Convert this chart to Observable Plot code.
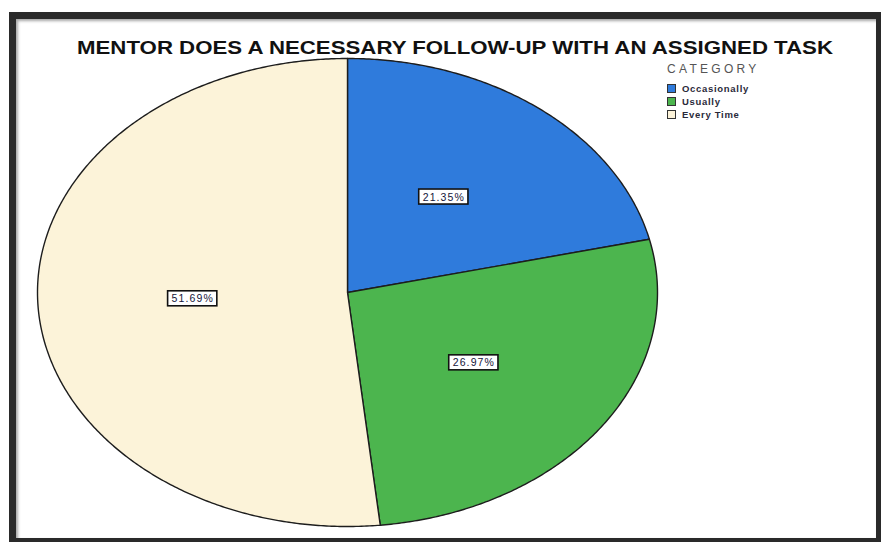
<!DOCTYPE html>
<html><head><meta charset="utf-8">
<script src="https://cdn.jsdelivr.net/npm/d3@7"></script>
<script src="https://cdn.jsdelivr.net/npm/@observablehq/plot@0.6"></script>
<style>
html,body{margin:0;padding:0;background:#fff;width:881px;height:542px;overflow:hidden;font-family:"Liberation Sans",Arial,sans-serif}
#frame{position:absolute;left:9px;top:12px;width:872px;height:530px;background:#2a2a2a;}
#inner{position:absolute;left:16px;top:19px;width:860px;height:519px;background:#fff;box-shadow:inset 2px 2px 3px rgba(0,0,0,0.35);}
#title{position:absolute;left:0;top:19px;width:878px;text-align:center;font-weight:bold;font-size:19px;line-height:19px;color:#111;white-space:nowrap;}
#title span{display:inline-block;transform-origin:50% 50%;}
#chart{position:absolute;left:0;top:0;}
#legend{position:absolute;left:651px;top:43px;color:#222;}
#legend .hd{font-size:12px;letter-spacing:3.3px;color:#555;margin-bottom:6px;}
#legend .row{display:flex;align-items:center;height:13px;font-size:9.5px;letter-spacing:0.7px;font-weight:bold;color:#2a2a3a;}
#legend .sw{width:7px;height:7px;border:1px solid #333;margin-right:6px;}
</style></head>
<body>
<div id="frame"></div>
<div id="inner">
  <div id="chart"></div>
  <div id="title"><span id="tspan"></span></div>
  <div id="legend"></div>
</div>
<script>
const titleText = "MENTOR DOES A NECESSARY FOLLOW-UP WITH AN ASSIGNED TASK";
const legendTitle = "CATEGORY";
const categories = ["Occasionally", "Usually", "Every Time"];
const percents = [21.35, 26.97, 51.69];
const colors = ["#2f7bdc", "#4cb54e", "#fcf3d9"];
const pctLabels = ["21.35%", "26.97%", "51.69%"];

// title
const ts = document.getElementById("tspan");
ts.textContent = titleText;
const tw = ts.getBoundingClientRect().width;
ts.style.transform = `scaleX(${756 / tw})`;

// legend
const lg = document.getElementById("legend");
const hd = document.createElement("div"); hd.className = "hd"; hd.textContent = legendTitle; lg.appendChild(hd);
categories.forEach((c, i) => {
  const r = document.createElement("div"); r.className = "row";
  const s = document.createElement("div"); s.className = "sw"; s.style.background = colors[i];
  const t = document.createElement("span"); t.textContent = c;
  r.appendChild(s); r.appendChild(t); lg.appendChild(r);
});

// slices from cumulative percentages (clockwise from 12 o'clock)
const total = d3.sum(percents);
let cum = 0;
const slices = percents.map((p, i) => {
  const a0 = cum / total * 2 * Math.PI;
  cum += p;
  const a1 = cum / total * 2 * Math.PI;
  const n = Math.max(2, Math.ceil((a1 - a0) / (Math.PI / 360)));
  const pts = [{x: 0, y: 0}];
  for (let k = 0; k <= n; k++) {
    const a = a0 + (a1 - a0) * k / n;
    pts.push({x: Math.sin(a), y: Math.cos(a)});
  }
  const am = (a0 + a1) / 2;
  return {points: pts, label: {x: 0.5 * Math.sin(am), y: 0.52 * Math.cos(am), text: pctLabels[i]}};
});

const plot = Plot.plot({
  width: 860, height: 519,
  marginLeft: 21, marginRight: 219, marginTop: 39, marginBottom: 12,
  style: {background: "transparent"},
  x: {domain: [-1, 1], axis: null},
  y: {domain: [-1, 1], axis: null},
  marks: [
    ...slices.map((s, i) => Plot.line(s.points, {x: "x", y: "y", curve: "linear-closed", fill: colors[i], stroke: "#1d1d1d", strokeWidth: 1.4})),
    Plot.text(slices.map(s => s.label), {x: "x", y: "y", text: "text", fontSize: 10.5, fill: "#15153a", fontFamily: "Liberation Sans, Arial, sans-serif"})
  ]
});
document.getElementById("chart").appendChild(plot);

// boxes behind percentage labels
plot.querySelectorAll("text").forEach(t => {
  if (!/%$/.test(t.textContent)) return;
  t.style.letterSpacing = "1.1px";
  const b = t.getBBox();
  const r = document.createElementNS("http://www.w3.org/2000/svg", "rect");
  r.setAttribute("x", b.x - 4); r.setAttribute("y", b.y - 1.5);
  r.setAttribute("width", b.width + 7); r.setAttribute("height", b.height + 3);
  r.setAttribute("fill", "#fff"); r.setAttribute("stroke", "#111"); r.setAttribute("stroke-width", 1.6);
  const tr = t.getAttribute("transform");
  if (tr) r.setAttribute("transform", tr);
  t.parentNode.insertBefore(r, t);
});
</script>
</body></html>
